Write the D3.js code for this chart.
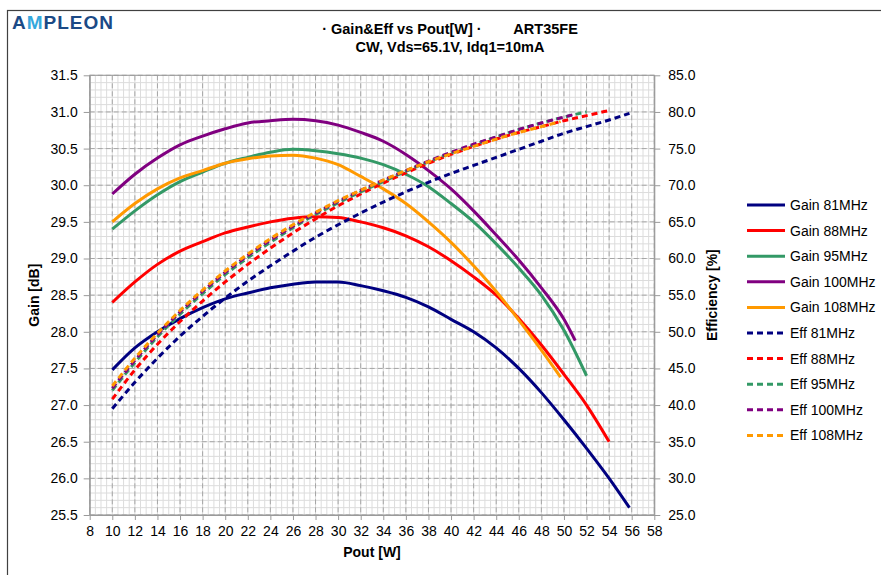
<!DOCTYPE html>
<html><head><meta charset="utf-8">
<script src="https://cdn.jsdelivr.net/npm/d3@7"></script>
<style>body{margin:0;background:#fff}svg{display:block}text{font-family:"Liberation Sans",Arial,sans-serif}</style>
</head><body><svg id="c" width="881" height="575"></svg>
<script>
// ---- data ----
const xTicks = d3.range(8, 58.01, 2);
const gainTicks = d3.range(25.5, 31.51, 0.5);
const effTicks = d3.range(25, 85.01, 5);

const gain81x = [10,12,14,16,18,20,22,24,26,28,30,32,34,36,38,40,42,44,46,48,50,52,54,55.8];
const gain81y = [27.48,27.78,28.0,28.18,28.33,28.45,28.53,28.6,28.65,28.68,28.68,28.63,28.56,28.47,28.34,28.17,28.0,27.78,27.5,27.17,26.8,26.41,26.0,25.6];
const gain88x = [10,12,14,16,18,20,22,24,26,28,30,32,34,36,38,40,42,44,46,48,50,52,54];
const gain88y = [28.4,28.68,28.92,29.1,29.23,29.35,29.43,29.5,29.55,29.57,29.56,29.5,29.42,29.31,29.16,28.97,28.75,28.5,28.18,27.82,27.42,27.0,26.5];
const gain95x = [10,12,14,16,18,20,22,24,26,28,30,32,34,36,38,40,42,44,46,48,50,52];
const gain95y = [29.4,29.65,29.87,30.05,30.18,30.3,30.38,30.45,30.49,30.47,30.43,30.37,30.28,30.15,29.98,29.75,29.5,29.2,28.87,28.5,28.02,27.4];
const gain100x = [10,12,14,16,18,20,22,24,26,28,30,32,34,36,38,40,42,44,46,48,50,51];
const gain100y = [29.88,30.15,30.37,30.55,30.67,30.77,30.85,30.88,30.9,30.88,30.82,30.72,30.6,30.42,30.2,29.95,29.65,29.32,28.98,28.6,28.17,27.88];
const gain108x = [10,12,14,16,18,20,22,24,26,28,30,32,34,36,38,40,42,44,46,48,49.7];
const gain108y = [29.5,29.75,29.95,30.1,30.2,30.3,30.36,30.4,30.41,30.37,30.28,30.12,29.95,29.75,29.5,29.22,28.9,28.55,28.16,27.75,27.38];

const eff81y = [39.5,43.1,46.4,49.4,52.1,54.6,56.9,59.0,61.0,62.9,64.6,66.2,67.7,69.1,70.4,71.6,72.7,73.8,74.9,76.0,77.1,78.0,78.9,79.8];
const eff88y = [40.8,44.8,48.3,51.4,54.2,56.8,59.2,61.4,63.5,65.4,67.2,68.8,70.3,71.7,73.0,74.2,75.3,76.3,77.2,78.0,78.8,79.5,80.2];
const eff95y = [42.0,45.8,49.3,52.4,55.2,57.8,60.1,62.2,64.2,66.0,67.6,69.1,70.5,71.9,73.2,74.4,75.5,76.6,77.6,78.5,79.3,80.0];
const eff100y = [42.3,46.1,49.6,52.7,55.5,58.1,60.4,62.5,64.4,66.2,67.8,69.3,70.7,72.0,73.3,74.5,75.6,76.6,77.6,78.5,79.3,79.7];
const eff108y = [42.6,46.4,49.8,52.9,55.7,58.3,60.6,62.7,64.6,66.3,67.9,69.3,70.7,72.0,73.2,74.3,75.3,76.3,77.2,78.0,78.7];

const seriesNames = ["Gain 81MHz","Gain 88MHz","Gain 95MHz","Gain 100MHz","Gain 108MHz","Eff 81MHz","Eff 88MHz","Eff 95MHz","Eff 100MHz","Eff 108MHz"];
const colors = ["#000080","#ff0000","#339966","#800080","#ff9900"];

// ---- layout ----
const svg = d3.select("#c");
const L = 89.7, R = 654.3, T = 75.3, B = 515;
const x = d3.scaleLinear().domain([8,58]).range([L,R]);
const yG = d3.scaleLinear().domain([25.5,31.5]).range([B,T]);
const yE = d3.scaleLinear().domain([25,85]).range([B,T]);

svg.append("rect").attr("x",0).attr("y",0).attr("width",881).attr("height",575).attr("fill","#fff");
svg.append("rect").attr("x",7.5).attr("y",10.5).attr("width",900).attr("height",600).attr("fill","none").attr("stroke","#404040").attr("stroke-width",1.2);

// logo
const logo = svg.append("text").attr("x",12).attr("y",29).attr("font-size",19).attr("font-weight","600").attr("letter-spacing",1).attr("font-family","'Open Sans','Liberation Sans',sans-serif");
logo.append("tspan").attr("fill","#1b4a86").text("A");
logo.append("tspan").attr("fill","#35a8dd").text("M");
logo.append("tspan").attr("fill","#1b4a86").text("PLEON");

// title
svg.append("text").attr("x",450).attr("y",34).attr("text-anchor","middle").attr("font-size",14.5).attr("font-weight","bold")
  .attr("xml:space","preserve").style("white-space","pre").text("· Gain&Eff vs Pout[W] ·        ART35FE");
svg.append("text").attr("x",450).attr("y",52).attr("text-anchor","middle").attr("font-size",14.5).attr("font-weight","bold").text("CW, Vds=65.1V, Idq1=10mA");

// minor grid
const g = svg.append("g");
d3.range(8, 58.01, 0.5).forEach(v => g.append("line").attr("x1",x(v)).attr("x2",x(v)).attr("y1",T).attr("y2",B).attr("stroke","#dcdcdc").attr("stroke-width",1));
d3.range(25.5, 31.51, 0.1).forEach(v => g.append("line").attr("x1",L).attr("x2",R).attr("y1",yG(v)).attr("y2",yG(v)).attr("stroke","#dcdcdc").attr("stroke-width",1));
// major grid
xTicks.forEach(v => g.append("line").attr("x1",x(v)).attr("x2",x(v)).attr("y1",T).attr("y2",B).attr("stroke","#a6a6a6").attr("stroke-dasharray","5,3"));
gainTicks.forEach(v => g.append("line").attr("x1",L).attr("x2",R).attr("y1",yG(v)).attr("y2",yG(v)).attr("stroke","#a6a6a6").attr("stroke-dasharray","5,3"));
// frame
svg.append("rect").attr("x",L).attr("y",T).attr("width",R-L).attr("height",B-T).attr("fill","none").attr("stroke","#9a9a9a");

// axes
function styleAxis(sel){ sel.select(".domain").attr("stroke","#9a9a9a"); sel.selectAll(".tick line").attr("stroke","#9a9a9a"); sel.selectAll("text").attr("font-size",14).attr("fill","#000").attr("font-family","'Liberation Sans',Arial,sans-serif"); }
svg.append("g").attr("transform",`translate(0,${B})`).call(d3.axisBottom(x).tickValues(xTicks).tickSize(5).tickSizeOuter(0).tickPadding(6)).call(styleAxis);
svg.append("g").attr("transform",`translate(${L},0)`).call(d3.axisLeft(yG).tickValues(gainTicks).tickFormat(d3.format(".1f")).tickSize(6).tickSizeOuter(0).tickPadding(6)).call(styleAxis);
svg.append("g").attr("transform",`translate(${R},0)`).call(d3.axisRight(yE).tickValues(effTicks).tickFormat(d3.format(".1f")).tickSize(6).tickSizeOuter(0).tickPadding(8)).call(styleAxis);

svg.append("text").attr("x",372).attr("y",557).attr("text-anchor","middle").attr("font-size",14).attr("font-weight","bold").text("Pout [W]");
svg.append("text").attr("transform",`translate(39,${(T+B)/2}) rotate(-90)`).attr("text-anchor","middle").attr("font-size",14).attr("font-weight","bold").text("Gain [dB]");
svg.append("text").attr("transform",`translate(717,${(T+B)/2}) rotate(-90)`).attr("text-anchor","middle").attr("font-size",14).attr("font-weight","bold").text("Efficiency [%]");

// series
const gainX = [gain81x,gain88x,gain95x,gain100x,gain108x];
const gainY = [gain81y,gain88y,gain95y,gain100y,gain108y];
const effY = [eff81y,eff88y,eff95y,eff100y,eff108y];
const lineG = d3.line().x(d=>x(d[0])).y(d=>yG(d[1])).curve(d3.curveMonotoneX);
const lineE = d3.line().x(d=>x(d[0])).y(d=>yE(d[1])).curve(d3.curveMonotoneX);
gainX.forEach((xs,i)=>{
  svg.append("path").datum(xs.map((v,j)=>[v,gainY[i][j]])).attr("d",lineG).attr("fill","none").attr("stroke",colors[i]).attr("stroke-width",3).attr("stroke-linejoin","round");
});
gainX.forEach((xs,i)=>{
  svg.append("path").datum(xs.map((v,j)=>[v,effY[i][j]])).attr("d",lineE).attr("fill","none").attr("stroke",colors[i]).attr("stroke-width",3).attr("stroke-dasharray","6,4");
});

// legend
seriesNames.forEach((n,i)=>{
  const yy = 205 + i*25.6;
  svg.append("line").attr("x1",747).attr("x2",785).attr("y1",yy).attr("y2",yy).attr("stroke",colors[i%5]).attr("stroke-width",3).attr("stroke-dasharray", i>=5 ? "6,4" : null);
  svg.append("text").attr("x",790).attr("y",yy+5).attr("font-size",14).text(n);
});
</script></body></html>
